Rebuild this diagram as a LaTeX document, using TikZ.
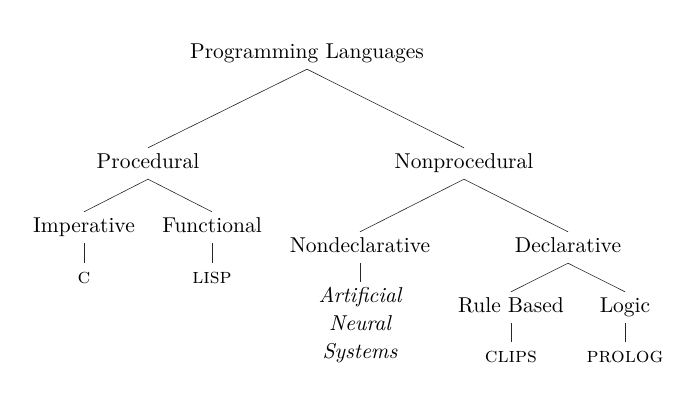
\documentclass[tikz,border=0pt]{standalone}
\usepackage{fontspec}
\setmainfont{lmroman10-regular.otf}[
  ItalicFont=lmroman10-italic.otf,
  SmallCapsFont=lmromancaps10-regular.otf]
\begin{document}
\begin{tikzpicture}[x=1pt,y=-1pt,
  txt/.style={font=\fontsize{21.5}{26}\selectfont, inner xsep=2pt},
  lbl/.style={txt, inner ysep=6pt, text height=14pt, text depth=5pt, anchor=base},
  multi/.style={txt, align=center, anchor=north, inner ysep=5pt,
    font=\fontsize{21.5}{28}\selectfont\itshape},
  edge/.style={draw, line width=0.6pt, black!85}]
\useasboundingbox (0,0) rectangle (687,402);
% nodes
\node[lbl] (root)   at (307,58)  {Programming Languages};
\node[lbl] (proc)   at (148,168) {Procedural};
\node[lbl] (nproc)  at (464,168) {Nonprocedural};
\node[lbl] (imp)    at (84,232)  {Imperative};
\node[lbl] (fun)    at (212,232) {Functional};
\node[lbl] (c)      at (84,283)  {\textsc{c}};
\node[lbl] (lisp)   at (212,283) {\textsc{lisp}};
\node[lbl] (ndecl)  at (360,252) {Nondeclarative};
\node[lbl] (decl)   at (568,252) {Declarative};
\node[multi] (ans)  at (360,282) {Artificial\\Neural\\Systems};
\node[lbl] (rule)   at (511,312) {Rule Based};
\node[lbl] (logic)  at (625,312) {Logic};
\node[lbl] (clips)  at (511,362) {\textsc{clips}};
\node[lbl] (prolog) at (625,362) {\textsc{prolog}};
% edges
\draw[edge] (root.south) -- (proc.north);
\draw[edge] (root.south) -- (nproc.north);
\draw[edge] (proc.south) -- (imp.north);
\draw[edge] (proc.south) -- (fun.north);
\draw[edge] (imp.south) -- (c.north);
\draw[edge] (fun.south) -- (lisp.north);
\draw[edge] (nproc.south) -- (ndecl.north);
\draw[edge] (nproc.south) -- (decl.north);
\draw[edge] (ndecl.south) -- (ans.north);
\draw[edge] (decl.south) -- (rule.north);
\draw[edge] (decl.south) -- (logic.north);
\draw[edge] (rule.south) -- (clips.north);
\draw[edge] (logic.south) -- (prolog.north);
\end{tikzpicture}
\end{document}
